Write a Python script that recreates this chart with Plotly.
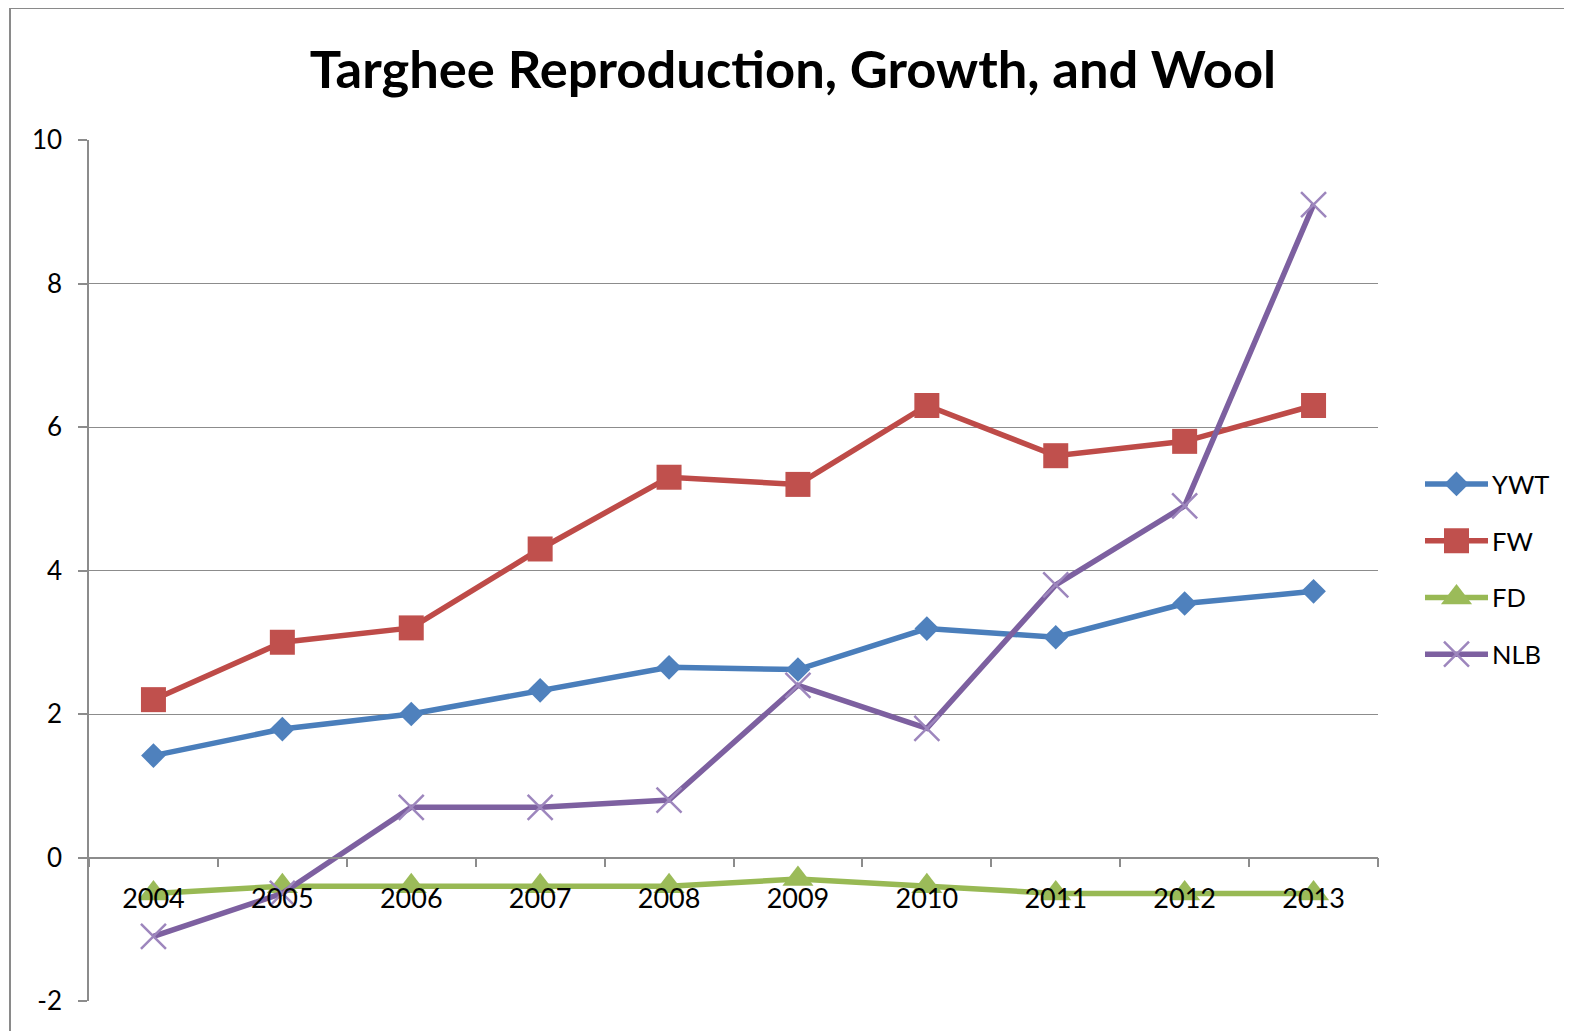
import plotly.graph_objects as go

# data
years = ["2004", "2005", "2006", "2007", "2008", "2009", "2010", "2011", "2012", "2013"]
ywt = [1.42, 1.79, 2.0, 2.33, 2.65, 2.62, 3.19, 3.07, 3.54, 3.71]
fw = [2.2, 3.0, 3.2, 4.3, 5.3, 5.2, 6.3, 5.6, 5.8, 6.3]
fd = [-0.5, -0.4, -0.4, -0.4, -0.4, -0.3, -0.4, -0.5, -0.5, -0.5]
nlb = [-1.1, -0.5, 0.7, 0.7, 0.8, 2.4, 1.8, 3.8, 4.9, 9.1]
series_names = ["YWT", "FW", "FD", "NLB"]
y_ticks = [-2, 0, 2, 4, 6, 8, 10]

FONT = "Lato"
GRID = "#8c8c8c"

# look of each series (Excel 2007 defaults)
styles = [
    dict(line="#4A7EBB", fill="#4F81BD", symbol="diamond", size=19, lw=0),
    dict(line="#BE4B48", fill="#C0504D", symbol="square", size=25, lw=0),
    dict(line="#98B954", fill="#9BBB59", symbol="triangle-up", size=27, lw=0),
    dict(line="#7D60A0", fill="#9D86BD", symbol="x-thin", size=25, lw=2.5),
]
values = [ywt, fw, fd, nlb]


def make_marker(st):
    m = dict(symbol=st["symbol"], size=st["size"], color=st["fill"])
    if st["lw"]:
        m["line"] = dict(color=st["fill"], width=st["lw"])
    return m


fig = go.Figure()

for name, vals, st in zip(series_names, values, styles):
    fig.add_trace(go.Scatter(
        x=years, y=vals, name=name, mode="lines+markers",
        line=dict(color=st["line"], width=5.5), marker=make_marker(st),
        showlegend=False, xaxis="x", yaxis="y",
    ))

# the page body adds an 8px margin, so the figure is a bit smaller and shifted
OFF = 8
W, H = 1572 - OFF, 1031 - OFF
PLOT_L, PLOT_R, PLOT_T, PLOT_B = 89, 1378, 140, 1001
ml, mt = PLOT_L - OFF, PLOT_T - OFF
mr, mb = 20, H - (PLOT_B - OFF)
pw = W - ml - mr
ph = H - mt - mb


def px_x(x):
    return (x - OFF - ml) / pw


def px_y(y):
    return (H - mb - (y - OFF)) / ph


# hand-made legend on a small overlay axis so the line sample can be long
for i, (name, st) in enumerate(zip(series_names, styles)):
    row = i + 1
    fig.add_trace(go.Scatter(
        x=[0, 1], y=[row, row], mode="lines",
        line=dict(color=st["line"], width=5.5),
        xaxis="x2", yaxis="y2", showlegend=False, hoverinfo="skip",
    ))
    fig.add_trace(go.Scatter(
        x=[0.5], y=[row], mode="markers", marker=make_marker(st),
        xaxis="x2", yaxis="y2", showlegend=False, hoverinfo="skip",
    ))
    fig.add_annotation(
        x=px_x(1490), y=row, xref="paper", yref="y2", text=name, showarrow=False,
        xanchor="left", yanchor="middle", font=dict(family=FONT, size=25.5, color="#000"),
    )

fig.update_layout(
    width=W, height=H,
    margin=dict(l=ml, r=mr, t=mt, b=mb, autoexpand=False),
    paper_bgcolor="white", plot_bgcolor="white",
    font=dict(family=FONT, color="#000"),
    title=dict(
        text="Targhee Reproduction, Growth, and Wool",
        x=(793 - OFF) / W, xref="container", xanchor="center",
        y=1 - (70 - OFF) / H, yref="container", yanchor="middle",
        font=dict(family=FONT, size=52.5, color="#000", weight="bold"),
    ),
    xaxis=dict(
        domain=[0, px_x(PLOT_R)], range=[-0.5, len(years) - 0.5],
        type="category", tickson="boundaries",
        anchor="free", position=2 / 12, automargin=False,
        showline=True, linecolor=GRID, linewidth=1.5,
        ticks="outside", ticklen=9, tickcolor=GRID, tickwidth=1.5,
        showgrid=False, zeroline=False,
        tickfont=dict(family=FONT, size=27, color="#000"),
        ticklabelstandoff=17,
    ),
    yaxis=dict(
        range=[-2, 10], tickvals=y_ticks, ticktext=[str(v) for v in y_ticks],
        automargin=False,
        showline=True, linecolor=GRID, linewidth=1.5,
        ticks="outside", ticklen=9, tickcolor=GRID, tickwidth=1.5,
        showgrid=True, gridcolor=GRID, gridwidth=1.2, zeroline=False,
        tickfont=dict(family=FONT, size=26, color="#000"),
        ticklabelstandoff=11,
    ),
    xaxis2=dict(
        domain=[px_x(1425), px_x(1488)], range=[0, 1],
        anchor="y2", visible=False, fixedrange=True,
    ),
    yaxis2=dict(
        domain=[px_y(682.5), px_y(455.5)], range=[4.5, 0.5],
        anchor="x2", visible=False, fixedrange=True,
    ),
    shapes=[dict(
        type="rect", xref="paper", yref="paper",
        x0=px_x(10), x1=1.3, y0=-0.2, y1=px_y(8),
        line=dict(color="#8a8a8a", width=2), fillcolor="rgba(0,0,0,0)", layer="below",
    )],
)

fig.write_html("out.html")
